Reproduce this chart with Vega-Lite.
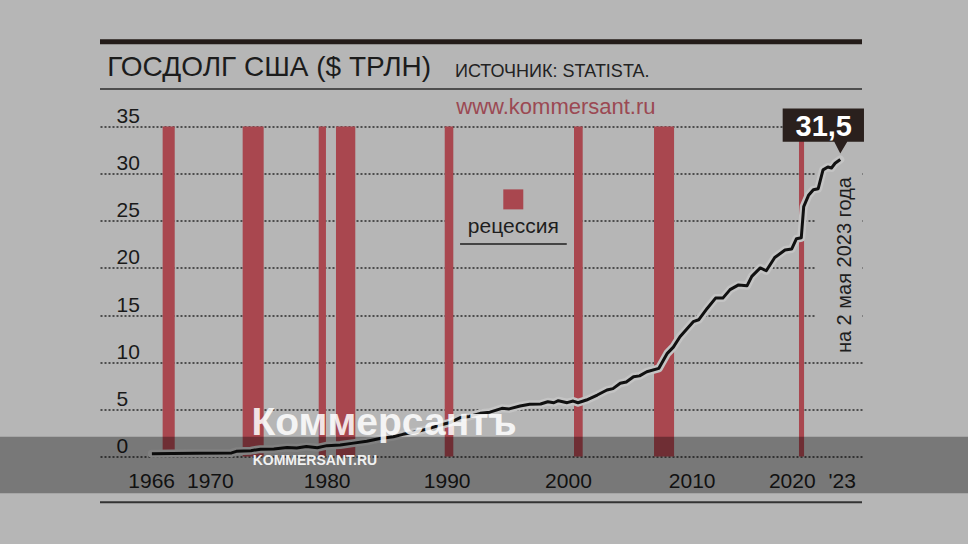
{
  "$schema": "https://vega.github.io/schema/vega-lite/v6.json",
  "autosize": {"type": "none"},
  "width": 762,
  "height": 330,
  "padding": {"left": 100, "top": 126.5, "right": 106, "bottom": 87.5},
  "background": "#b6b6b6",
  "config": {
    "view": {"stroke": null},
    "locale": {"number": {"decimal": ",", "thousands": " ", "grouping": [3], "currency": ["", " $"]}}
  },
  "datasets": {
    "debt": [
      {"year": 1966.3, "debt": 0.3}, {"year": 1968.0, "debt": 0.32}, {"year": 1970.0, "debt": 0.34},
      {"year": 1972.9, "debt": 0.38}, {"year": 1973.3, "debt": 0.55}, {"year": 1974.5, "debt": 0.62},
      {"year": 1975.3, "debt": 0.78}, {"year": 1976.4, "debt": 0.8}, {"year": 1977.5, "debt": 0.95},
      {"year": 1978.3, "debt": 0.9}, {"year": 1979.1, "debt": 1.05}, {"year": 1980.0, "debt": 0.92},
      {"year": 1980.8, "debt": 1.15}, {"year": 1981.9, "debt": 1.22}, {"year": 1983.0, "debt": 1.42},
      {"year": 1984.1, "debt": 1.62}, {"year": 1985.2, "debt": 1.9}, {"year": 1986.3, "debt": 2.1},
      {"year": 1987.1, "debt": 2.35}, {"year": 1988.2, "debt": 2.63}, {"year": 1989.3, "debt": 2.98},
      {"year": 1990.2, "debt": 3.34}, {"year": 1991.0, "debt": 3.6}, {"year": 1991.8, "debt": 4.1},
      {"year": 1992.6, "debt": 4.25}, {"year": 1993.5, "debt": 4.58}, {"year": 1994.3, "debt": 4.7},
      {"year": 1995.3, "debt": 5.11}, {"year": 1995.9, "debt": 5.05}, {"year": 1996.8, "debt": 5.36},
      {"year": 1997.6, "debt": 5.55}, {"year": 1998.5, "debt": 5.57}, {"year": 1999.1, "debt": 5.81},
      {"year": 1999.6, "debt": 5.7}, {"year": 1999.97, "debt": 5.92}, {"year": 2000.7, "debt": 5.71},
      {"year": 2001.2, "debt": 5.88}, {"year": 2001.6, "debt": 5.7}, {"year": 2002.3, "debt": 5.99},
      {"year": 2003.2, "debt": 6.52}, {"year": 2004.0, "debt": 7.05}, {"year": 2004.5, "debt": 7.2},
      {"year": 2005.1, "debt": 7.76}, {"year": 2005.6, "debt": 7.9}, {"year": 2006.2, "debt": 8.46},
      {"year": 2006.7, "debt": 8.55}, {"year": 2007.3, "debt": 8.99}, {"year": 2008.3, "debt": 9.35},
      {"year": 2009.0, "debt": 10.94}, {"year": 2009.5, "debt": 11.6}, {"year": 2010.05, "debt": 12.7},
      {"year": 2010.6, "debt": 13.5}, {"year": 2011.15, "debt": 14.3}, {"year": 2011.6, "debt": 14.5},
      {"year": 2012.3, "debt": 15.7}, {"year": 2013.0, "debt": 16.8}, {"year": 2013.6, "debt": 16.8},
      {"year": 2014.2, "debt": 17.7}, {"year": 2014.9, "debt": 18.2}, {"year": 2015.6, "debt": 18.1},
      {"year": 2016.0, "debt": 19.1}, {"year": 2016.7, "debt": 20.0}, {"year": 2017.2, "debt": 19.7},
      {"year": 2017.9, "debt": 21.1}, {"year": 2018.75, "debt": 21.9}, {"year": 2019.3, "debt": 22.0},
      {"year": 2019.7, "debt": 23.1}, {"year": 2020.1, "debt": 23.2}, {"year": 2020.3, "debt": 26.5},
      {"year": 2020.7, "debt": 27.7}, {"year": 2021.1, "debt": 28.3}, {"year": 2021.5, "debt": 28.4},
      {"year": 2021.9, "debt": 30.4}, {"year": 2022.3, "debt": 30.7}, {"year": 2022.6, "debt": 30.6},
      {"year": 2022.9, "debt": 31.1}, {"year": 2023.33, "debt": 31.5}
    ],
    "recessions": [
      {"start": 1967.19, "end": 1968.19}, {"start": 1973.82, "end": 1975.56},
      {"start": 1980.12, "end": 1980.72}, {"start": 1981.55, "end": 1983.15},
      {"start": 1990.56, "end": 1991.27}, {"start": 2001.27, "end": 2001.99},
      {"start": 2007.9, "end": 2009.56}, {"start": 2019.91, "end": 2020.33}
    ]
  },
  "layer": [
    {
      "data": {"name": "recessions"},
      "mark": {"type": "rect", "fill": "#b6b6b6", "opacity": 0},
      "encoding": {
        "x": {
          "field": "start", "type": "quantitative",
          "scale": {"domain": [1962, 2025.13], "nice": false, "zero": false},
          "axis": {
            "values": [1966.24, 1971.1, 1980.78, 1990.72, 2000.77, 2011.02, 2019.31, 2023.45],
            "labelExpr": "datum.value > 2023 ? \"'23\" : datum.value > 2019 ? '2020' : datum.value < 1968 ? '1966' : toString(round(datum.value / 10) * 10)",
            "title": null, "grid": false, "ticks": false, "tickSize": 0, "domain": false,
            "labelFont": "Liberation Sans", "labelFontSize": 21, "labelColor": "#1a1a1a",
            "labelBaseline": "alphabetic", "labelAlign": "center", "labelPadding": 31,
            "labelOverlap": false, "labelFlush": false, "labelBound": false
          }
        },
        "x2": {"field": "end"},
        "y": {
          "datum": 0, "type": "quantitative",
          "scale": {"domain": [0, 35], "nice": false, "zero": false},
          "axis": {
            "values": [0, 5, 10, 15, 20, 25, 30, 35],
            "title": null, "grid": true, "gridDash": [2, 2], "gridColor": "#2b2b2b", "gridWidth": 1.3,
            "ticks": false, "tickSize": 0, "domain": false,
            "labelFont": "Liberation Sans", "labelFontSize": 21, "labelColor": "#1a1a1a",
            "labelAlign": "left", "labelBaseline": "alphabetic", "labelPadding": -16, "labelOffset": -4
          }
        },
        "y2": {"datum": 35}
      }
    },
    {
      "data": {"values": [{}]},
      "mark": {"type": "rect", "fill": "#b6b6b6"},
      "encoding": {
        "x": {"datum": 1991.0, "type": "quantitative"},
        "x2": {"datum": 2001.5},
        "y": {"datum": 22.8, "type": "quantitative"},
        "y2": {"datum": 29}
      }
    },
    {
      "data": {"values": [{}]},
      "mark": {"type": "rect", "fill": "#b6b6b6"},
      "encoding": {
        "x": {"datum": 2021.24, "type": "quantitative"},
        "x2": {"datum": 2025.13},
        "y": {"datum": 10.6, "type": "quantitative"},
        "y2": {"datum": 31.2}
      }
    },
    {
      "data": {"name": "recessions"},
      "mark": {"type": "rect", "fill": "#a9474f"},
      "encoding": {
        "x": {"field": "start", "type": "quantitative"},
        "x2": {"field": "end"},
        "y": {"datum": 0, "type": "quantitative"},
        "y2": {"datum": 35}
      }
    },
    {
      "data": {"name": "debt"},
      "mark": {"type": "line", "stroke": "#c4c4c4", "strokeWidth": 8, "strokeJoin": "round", "strokeCap": "round"},
      "encoding": {
        "x": {"field": "year", "type": "quantitative"},
        "y": {"field": "debt", "type": "quantitative"}
      }
    },
    {
      "data": {"name": "debt"},
      "mark": {"type": "line", "stroke": "#111111", "strokeWidth": 3, "strokeJoin": "round"},
      "encoding": {
        "x": {"field": "year", "type": "quantitative"},
        "y": {"field": "debt", "type": "quantitative"}
      }
    },
    {
      "data": {"name": "debt"},
      "transform": [{"filter": "datum.year > 2023"}],
      "mark": {
        "type": "point", "filled": true, "fill": "#2a201d", "opacity": 1, "strokeWidth": 0, "size": 10000,
        "shape": "M-1.152,-1.022L0.474,-1.022L0.474,-0.354L0.14,-0.354L0,-0.12L-0.12,-0.354L-1.152,-0.354Z"
      },
      "encoding": {
        "x": {"field": "year", "type": "quantitative"},
        "y": {"field": "debt", "type": "quantitative"}
      }
    },
    {
      "data": {"name": "debt"},
      "transform": [{"filter": "datum.year > 2023"}],
      "mark": {"type": "text", "font": "Liberation Sans", "fontWeight": "bold", "fontSize": 29, "fill": "#ffffff", "align": "center", "baseline": "middle", "dx": -16.5, "dy": -33},
      "encoding": {
        "x": {"field": "year", "type": "quantitative"},
        "y": {"field": "debt", "type": "quantitative"},
        "text": {"field": "debt", "type": "quantitative", "format": ".1f"}
      }
    },
    {
      "data": {"values": [{}]},
      "mark": {"type": "text", "text": "на 2 мая 2023 года", "font": "Liberation Sans", "fontSize": 20, "fill": "#1e1e1e", "angle": 270, "align": "center", "baseline": "alphabetic"},
      "encoding": {
        "x": {"datum": 2024.22, "type": "quantitative"},
        "y": {"datum": 20.3, "type": "quantitative"}
      }
    },
    {
      "data": {"values": [{}]},
      "mark": {"type": "point", "shape": "square", "size": 400, "filled": true, "fill": "#a9474f", "opacity": 1, "strokeWidth": 0},
      "encoding": {
        "x": {"datum": 1996.24, "type": "quantitative"},
        "y": {"datum": 27.27, "type": "quantitative"}
      }
    },
    {
      "data": {"values": [{}]},
      "mark": {"type": "text", "text": "рецессия", "font": "Liberation Sans", "fontSize": 21, "fill": "#1e1e1e", "align": "center", "baseline": "alphabetic"},
      "encoding": {
        "x": {"datum": 1996.24, "type": "quantitative"},
        "y": {"datum": 23.69, "type": "quantitative"}
      }
    },
    {
      "data": {"values": [{}]},
      "mark": {"type": "rule", "stroke": "#1e1e1e", "strokeWidth": 1.5},
      "encoding": {
        "x": {"datum": 1991.83, "type": "quantitative"},
        "x2": {"datum": 2000.67},
        "y": {"datum": 22.53, "type": "quantitative"}
      }
    },
    {
      "data": {"values": [{}]},
      "mark": {"type": "rule", "stroke": "#241c19", "strokeWidth": 5},
      "encoding": {
        "x": {"datum": 1962, "type": "quantitative"},
        "x2": {"datum": 2025.13},
        "y": {"datum": 43.99, "type": "quantitative"}
      }
    },
    {
      "data": {"values": [{}]},
      "mark": {"type": "rule", "stroke": "#2b2b2b", "strokeWidth": 1.5},
      "encoding": {
        "x": {"datum": 1962, "type": "quantitative"},
        "x2": {"datum": 2025.13},
        "y": {"datum": 38.97, "type": "quantitative"}
      }
    },
    {
      "data": {"values": [{}]},
      "mark": {"type": "rule", "stroke": "#333333", "strokeWidth": 2},
      "encoding": {
        "x": {"datum": 1962, "type": "quantitative"},
        "x2": {"datum": 2025.13},
        "y": {"datum": -4.86, "type": "quantitative"}
      }
    },
    {
      "data": {"values": [{}]},
      "mark": {"type": "text", "text": "ГОСДОЛГ США ($ ТРЛН)", "font": "Liberation Sans", "fontSize": 28, "fill": "#1c1c1c", "align": "left", "baseline": "alphabetic"},
      "encoding": {
        "x": {"datum": 1962.6, "type": "quantitative"},
        "y": {"datum": 40.38, "type": "quantitative"}
      }
    },
    {
      "data": {"values": [{}]},
      "mark": {"type": "text", "text": "ИСТОЧНИК: STATISTA.", "font": "Liberation Sans", "fontSize": 18, "fill": "#222222", "align": "left", "baseline": "alphabetic"},
      "encoding": {
        "x": {"datum": 1991.41, "type": "quantitative"},
        "y": {"datum": 40.28, "type": "quantitative"}
      }
    },
    {
      "data": {"values": [{}]},
      "mark": {"type": "text", "text": "www.kommersant.ru", "font": "Liberation Sans", "fontSize": 22, "fill": "#9b4953", "align": "center", "baseline": "alphabetic"},
      "encoding": {
        "x": {"datum": 1999.77, "type": "quantitative"},
        "y": {"datum": 36.32, "type": "quantitative"}
      }
    },
    {
      "data": {"values": [{}]},
      "mark": {"type": "rect", "fill": "#000000", "opacity": 0.34},
      "encoding": {
        "x": {"datum": 1953.71, "type": "quantitative"},
        "x2": {"datum": 2033.92},
        "y": {"datum": 2.1, "type": "quantitative"},
        "y2": {"datum": -3.9}
      }
    },
    {
      "data": {"values": [{}]},
      "mark": {"type": "text", "text": "Коммерсантъ", "font": "Liberation Sans", "fontWeight": "bold", "fontSize": 39, "fill": "#ffffff", "opacity": 0.85, "align": "left", "baseline": "alphabetic"},
      "encoding": {
        "x": {"datum": 1974.55, "type": "quantitative"},
        "y": {"datum": 2.28, "type": "quantitative"}
      }
    },
    {
      "data": {"values": [{}]},
      "mark": {"type": "text", "text": "KOMMERSANT.RU", "font": "Liberation Sans Narrow, Liberation Sans", "fontWeight": "bold", "fontSize": 14, "fill": "#ffffff", "opacity": 0.9, "align": "left", "baseline": "alphabetic"},
      "encoding": {
        "x": {"datum": 1974.65, "type": "quantitative"},
        "y": {"datum": -0.9, "type": "quantitative"}
      }
    }
  ]
}
